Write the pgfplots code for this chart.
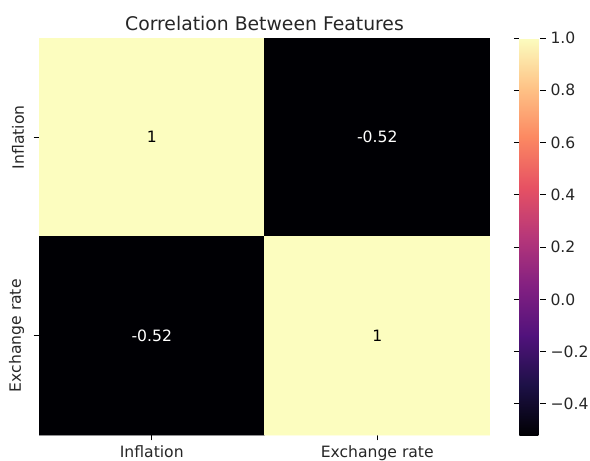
\documentclass[border=0pt]{standalone}
\usepackage{pgfplots}
\pgfplotsset{compat=1.18}
\usepackage{fontspec}
\setmainfont{DejaVu Sans}
\pgfplotsset{
  colormap={magma}{
    rgb=(0.001462,0.000466,0.013866)
    rgb=(0.113094,0.065492,0.276784)
    rgb=(0.316654,0.071690,0.485380)
    rgb=(0.512831,0.125849,0.507931)
    rgb=(0.716387,0.214982,0.475290)
    rgb=(0.904281,0.319610,0.388137)
    rgb=(0.986700,0.535582,0.382210)
    rgb=(0.996341,0.764654,0.528245)
    rgb=(0.987053,0.991438,0.749504)
  }
}
\pgfplotstableread{
x y c
0 0 1
1 0 -0.5191
0 1 -0.5191
1 1 1
}\corrtable
\begin{document}
\begin{tikzpicture}
\path[use as bounding box] (-29.25pt,-19.5pt) rectangle (413.25pt,326.25pt);
\begin{axis}[
  at={(0,0)}, anchor=south west,
  scale only axis,
  width=338.25pt, height=297.75pt,
  xmin=-0.5, xmax=1.5, ymin=-0.5, ymax=1.5,
  y dir=reverse,
  axis line style={draw=none},
  xtick={0,1}, xticklabels={Inflation, Exchange rate},
  ytick={0,1}, yticklabels={Inflation, Exchange rate},
  yticklabel style={xshift=-3.5pt, rotate=90, anchor=south},
  xticklabel style={yshift=-0.5pt},
  tick align=outside, tick pos=left,
  major tick length=4.1pt,
  tick style={black, line width=0.6pt},
  ticklabel style={font=\fontsize{11.7}{14}\selectfont, text=black!85},
  title={Correlation Between Features},
  title style={font=\fontsize{14.1}{17}\selectfont, at={(0.5,1)}, anchor=south, yshift=-4.3pt, text=black!85},
  colormap name=magma,
  point meta min=-0.5191, point meta max=1,
  colorbar right,
  colorbar style={
    scale only axis,
    at={(parent axis.north east)}, anchor=north west, xshift=13.5pt,
    width=15.75pt, height=297.75pt,
    axis line style={draw=none},
    ytick={-0.4,-0.2,0,0.2,0.4,0.6,0.8,1.0},
    yticklabels={−0.4,−0.2,0.0,0.2,0.4,0.6,0.8,1.0},
    yticklabel style={font=\fontsize{11.7}{14}\selectfont, text=black!85},
    tick align=outside, major tick length=4.1pt,
    tick style={black, line width=0.6pt},
  },
]
\addplot[matrix plot*, mesh/cols=2, point meta=explicit] table[x=x, y=y, meta=c] {\corrtable};
\addplot[only marks, mark=none, nodes near coords, point meta=explicit symbolic,
  nodes near coords style={anchor=center, font=\fontsize{11.7}{14}\selectfont, text=black}]
  coordinates {(0,0) [1] (1,1) [1]};
\addplot[only marks, mark=none, nodes near coords, point meta=explicit symbolic,
  nodes near coords style={anchor=center, font=\fontsize{11.7}{14}\selectfont, text=white}]
  coordinates {(1,0) [-0.52] (0,1) [-0.52]};
\end{axis}
\end{tikzpicture}
\end{document}
